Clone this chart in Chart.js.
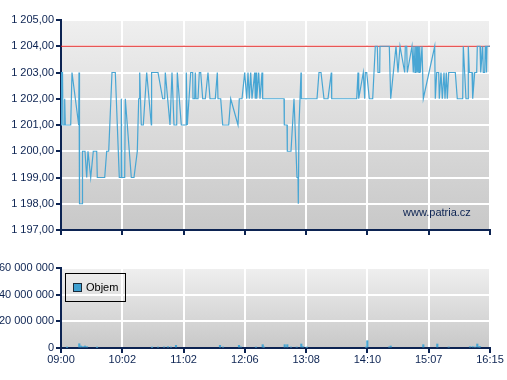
<!DOCTYPE html>
<html><head><meta charset="utf-8">
<script src="https://cdn.jsdelivr.net/npm/chart.js@4/dist/chart.umd.min.js"></script>
<style>
html,body{margin:0;padding:0;background:#fff;width:507px;height:380px;overflow:hidden;font-family:"Liberation Sans",Arial,sans-serif;}
#w1{position:absolute;left:0;top:0;width:507px;height:245px;}
#w2{position:absolute;left:0;top:245px;width:507px;height:135px;}
#mark{position:absolute;left:403px;top:206px;font-size:11px;color:#0c2352;line-height:13px;}
#legend{position:absolute;left:65px;top:273px;width:59px;height:27px;border:1px solid #000;}
#legend .sw{position:absolute;left:7px;top:9px;width:7px;height:7px;border:1px solid #1a2a3a;background:#3d9fd0;}
#legend .tx{position:absolute;left:20px;top:7px;font-size:11px;color:#000;line-height:13px;}
</style></head>
<body>
<div id="w1"><canvas id="c1" width="507" height="245"></canvas></div>
<div id="w2"><canvas id="c2" width="507" height="135"></canvas></div>
<div id="mark">www.patria.cz</div>
<div id="legend"><div class="sw"></div><div class="tx" id="legTx"></div></div>
<script>
// ---- data ----
const timeLabels = ['09:00','10:02','11:02','12:06','13:08','14:10','15:07','16:15'];
const seqMax = 429;               // trade sequence range shown on x axis
const limitPrice = 1204;          // red reference line
const priceTicks = [1197, 1205];  // min / max of price axis
const volumeTicks = [0, 60000000];
const volumeName = 'Objem';
// [trade sequence, price]
const priceSeries = [
[0,1201],[0.5,1203],[1.5,1203],[2,1201],[3.5,1201],[3.7,1202],[4.3,1201],[9.7,1201],[11,1203],[17.7,1201],
[18,1203],[18.5,1198],[21,1198],[21.5,1200],[24,1200],[25.7,1199],[27,1200],[29.7,1199],[32.3,1200],[35.7,1200],
[36.3,1199],[43.7,1199],[45.7,1200],[47.7,1200],[51,1203],[54.3,1203],[58.3,1199],[60,1199],[60.3,1202],[61,1199],
[63.7,1199],[64.3,1202],[70.3,1199],[73,1199],[76.3,1200],[77.7,1202],[78.3,1202],[78.7,1203],[80.3,1201],[82.3,1201],
[85.7,1203],[90.3,1201],[90.6,1203],[97,1203],[101.7,1202],[103.7,1202],[104.3,1203],[109,1201],[111,1203],[113,1201],
[115.7,1201],[116.3,1203],[120.3,1201],[125,1201],[125.3,1203],[126.3,1201],[129.7,1203],[131.7,1203],[132,1202],[133.7,1202],
[134.3,1203],[135,1202],[137,1202],[138.3,1203],[139.7,1203],[141.7,1202],[144.3,1202],[147,1203],[149,1202],[154.3,1202],
[156.3,1203],[157,1202],[159.7,1202],[161.7,1201],[167.7,1201],[169.7,1202],[177,1201],[178.3,1202],[181,1202],[183.7,1203],
[185.7,1202],[187,1203],[188.3,1202],[189.7,1203],[191,1202],[193.7,1203],[194.3,1202],[195,1203],[195.7,1202],[197.7,1203],
[199,1202],[201,1203],[201.7,1202],[223,1202],[223.3,1201],[226,1201],[226.3,1200],[230,1200],[233,1202],[236,1199],
[237,1199],[237.3,1198],[238,1201],[240,1203],[240.3,1202],[256,1202],[258,1203],[260,1203],[263,1202],[267,1202],
[270.3,1203],[270.7,1202],[295.7,1202],[297,1203],[297.7,1202],[302.3,1203],[303.7,1202],[304.3,1203],[305.7,1203],[308.3,1202],
[311.7,1202],[314.3,1204],[316.3,1204],[317,1203],[318.7,1203],[319,1204],[328.3,1204],[329.7,1202],[335,1204],[337,1203],
[339,1204],[343.7,1203],[344.3,1204],[345.7,1204],[346.3,1203],[351,1204],[352.3,1203],[353,1204],[354,1203],[354.7,1204],
[355.3,1203],[356,1204],[356.7,1203],[357.3,1204],[358,1203],[358.7,1204],[359.3,1203],[361,1204],[362.3,1202],[373.7,1204],
[374.3,1202],[375.7,1203],[377.7,1203],[378.3,1202],[380,1203],[381.3,1202],[383,1203],[384,1202],[385.3,1203],[386.3,1202],
[387.7,1203],[394.3,1203],[396.3,1202],[401.7,1202],[402.3,1204],[405,1202],[407,1202],[407.3,1204],[408.3,1203],[411,1203],
[411.7,1202],[413.7,1203],[415.7,1203],[416.3,1204],[419,1204],[419.7,1203],[421.7,1204],[422.3,1203],[423.7,1203],[424.3,1204],
[425,1204],[425.5,1203],[426,1204],[429,1204]
];
// [trade sequence, volume in millions]
const volumeSeries = [
[6,0.5],[18.3,3.2],[20,1.5],[22,1],[24,1.5],[26,1],[36,0.5],[91,0.5],[97,0.7],[103,0.8],
[107,1],[110,0.7],[115,2],[159,2],[162,0.7],[178,2],[180,0.8],[195,0.6],[201.7,2.5],[203,0.7],
[223.7,2.5],[226.3,2.5],[230,0.7],[235.7,0.7],[240.3,3],[242,1],[245.7,0.5],[305,0.6],[306.3,5.5],[328,0.8],
[329.7,1.5],[362.3,2.5],[376.3,3],[387.7,0.7],[409,1],[411.7,1],[414,0.7],[416.3,3],[418,1],[419,1]
];

// ---- helpers ----
function fmt(v, dec){
  const s = v.toFixed(dec).split('.');
  const i = s[0].replace(/\B(?=(\d{3})+(?!\d))/g,' ');
  return s[1] ? i + ',' + s[1] : i;
}
const NAVY = '#0c2352';
const FONT = {family:'"Liberation Sans", Arial, sans-serif', size:11};
const bgPlugin = { id:'bg', beforeDraw(chart){
  const {ctx, chartArea:a} = chart;
  const g = ctx.createLinearGradient(0,a.top,0,a.bottom);
  g.addColorStop(0,'#efefef'); g.addColorStop(1,'#c8c8c8');
  ctx.save(); ctx.fillStyle = g; ctx.fillRect(a.left,a.top,a.right-a.left,a.bottom-a.top); ctx.restore();
}};
function xScale(showLabels, h){
  return {
    type:'linear', min:0, max:seqMax, offset:false,
    afterBuildTicks(s){ s.ticks = timeLabels.map((_,i)=>({value:i*seqMax/(timeLabels.length-1)})); },
    afterFit(s){ s.height = h; },
    ticks:{ display:showLabels, autoSkip:false, maxRotation:0, padding:0, color:NAVY, font:FONT,
      callback:(v,i)=>timeLabels[i] },
    grid:{ color:'#ffffff', lineWidth:2, tickColor:NAVY, tickLength:5, tickWidth:2, offset:false },
    border:{ color:NAVY, width:2 }
  };
}
Chart.defaults.font.family = FONT.family;

new Chart(document.getElementById('c1'), {
  type:'line',
  data:{ datasets:[
    { data:priceSeries.map(([s,p])=>({x:s,y:p})), borderColor:'#48a6d4', borderWidth:1.2, pointRadius:0, tension:0, fill:false },
    { data:[{x:0,y:limitPrice},{x:seqMax,y:limitPrice}], borderColor:'#e0201f', borderWidth:1, pointRadius:0, fill:false }
  ]},
  options:{
    responsive:false, animation:false, devicePixelRatio:1,
    layout:{ padding:{top:20,right:17,left:0,bottom:0} },
    plugins:{ legend:{display:false}, tooltip:{enabled:false} },
    scales:{
      x: xScale(false, 15),
      y:{ min:priceTicks[0], max:priceTicks[1], afterFit(s){ s.width = 61; },
        ticks:{ stepSize:1, padding:2, color:NAVY, font:FONT, callback:v=>fmt(v,2) },
        grid:{ color:'#ffffff', lineWidth:2, tickColor:NAVY, tickLength:5, tickWidth:2 },
        border:{ color:NAVY, width:2 } }
    }
  },
  plugins:[bgPlugin]
});

new Chart(document.getElementById('c2'), {
  type:'bar',
  data:{ datasets:[
    { label:volumeName, data:volumeSeries.map(([s,v])=>({x:s,y:v*1e6})), backgroundColor:'#48a6d4', barThickness:1.5 }
  ]},
  options:{
    responsive:false, animation:false, devicePixelRatio:1,
    layout:{ padding:{top:23,right:17,left:0,bottom:0} },
    plugins:{ legend:{display:false}, tooltip:{enabled:false} },
    scales:{
      x: xScale(true, 32),
      y:{ min:volumeTicks[0], max:volumeTicks[1], afterFit(s){ s.width = 61; },
        ticks:{ stepSize:20000000, padding:2, color:NAVY, font:FONT, callback:v=>fmt(v,0) },
        grid:{ color:'#ffffff', lineWidth:2, tickColor:NAVY, tickLength:5, tickWidth:2 },
        border:{ color:NAVY, width:2 } }
    }
  },
  plugins:[bgPlugin]
});
document.getElementById('legTx').textContent = volumeName;
</script>
</body></html>
